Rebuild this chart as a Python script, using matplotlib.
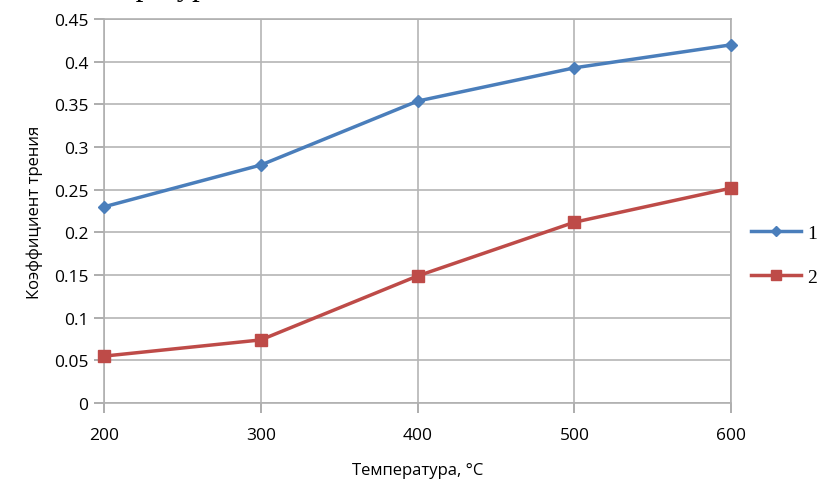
import matplotlib
matplotlib.use("Agg")
import matplotlib.pyplot as plt

# data
temps = [200, 300, 400, 500, 600]
series_1 = [0.230, 0.279, 0.354, 0.393, 0.420]
series_2 = [0.055, 0.074, 0.149, 0.212, 0.252]
y_ticks = [0, 0.05, 0.1, 0.15, 0.2, 0.25, 0.3, 0.35, 0.4, 0.45]
y_tick_labels = ["0", "0.05", "0.1", "0.15", "0.2", "0.25", "0.3", "0.35", "0.4", "0.45"]

plt.rcParams["font.family"] = ["Open Sans", "DejaVu Sans"]

fig = plt.figure(figsize=(8.18, 4.81), dpi=100)
ax = fig.add_axes([0.127, 0.16, 0.767, 0.798])

ax.plot(temps, series_1, color="#4a7ebb", lw=2.5, marker="D", ms=6,
        label="1", clip_on=False, zorder=3)
ax.plot(temps, series_2, color="#be4b48", lw=2.5, marker="s", ms=9,
        label="2", clip_on=False, zorder=3)

ax.set_xlim(200, 600)
ax.set_ylim(0, 0.45)
ax.set_xticks(temps)
ax.set_yticks(y_ticks)
ax.set_yticklabels(y_tick_labels)
ax.tick_params(axis="both", labelsize=12.5, color="#a0a0a0", length=7, width=1.2, pad=4)
ax.tick_params(axis="x", pad=10)
ax.grid(True, color="#b5b5b5", lw=1.2)
for side in ["left", "right", "top", "bottom"]:
    ax.spines[side].set_color("#b0b0b0")
    ax.spines[side].set_linewidth(1.2)
ax.set_axisbelow(True)

ax.set_ylabel("Коэффициент трения", fontsize=12, labelpad=8)
ax.set_xlabel("Температура, °С", fontsize=12, labelpad=14)

leg = ax.legend(loc="center left", bbox_to_anchor=(1.0, 0.385), frameon=False,
                prop={"family": "Liberation Serif", "size": 14},
                handlelength=2.6, labelspacing=1.35, handletextpad=0.3,
                borderaxespad=0.8, borderpad=0.2, markerscale=0.8)

# fragment of the surrounding text cut off at the top of the scan
fig.text(0.13, 1.026, "пература", family="Liberation Serif", fontsize=22, va="center")

fig.savefig("out.png", dpi=100)
